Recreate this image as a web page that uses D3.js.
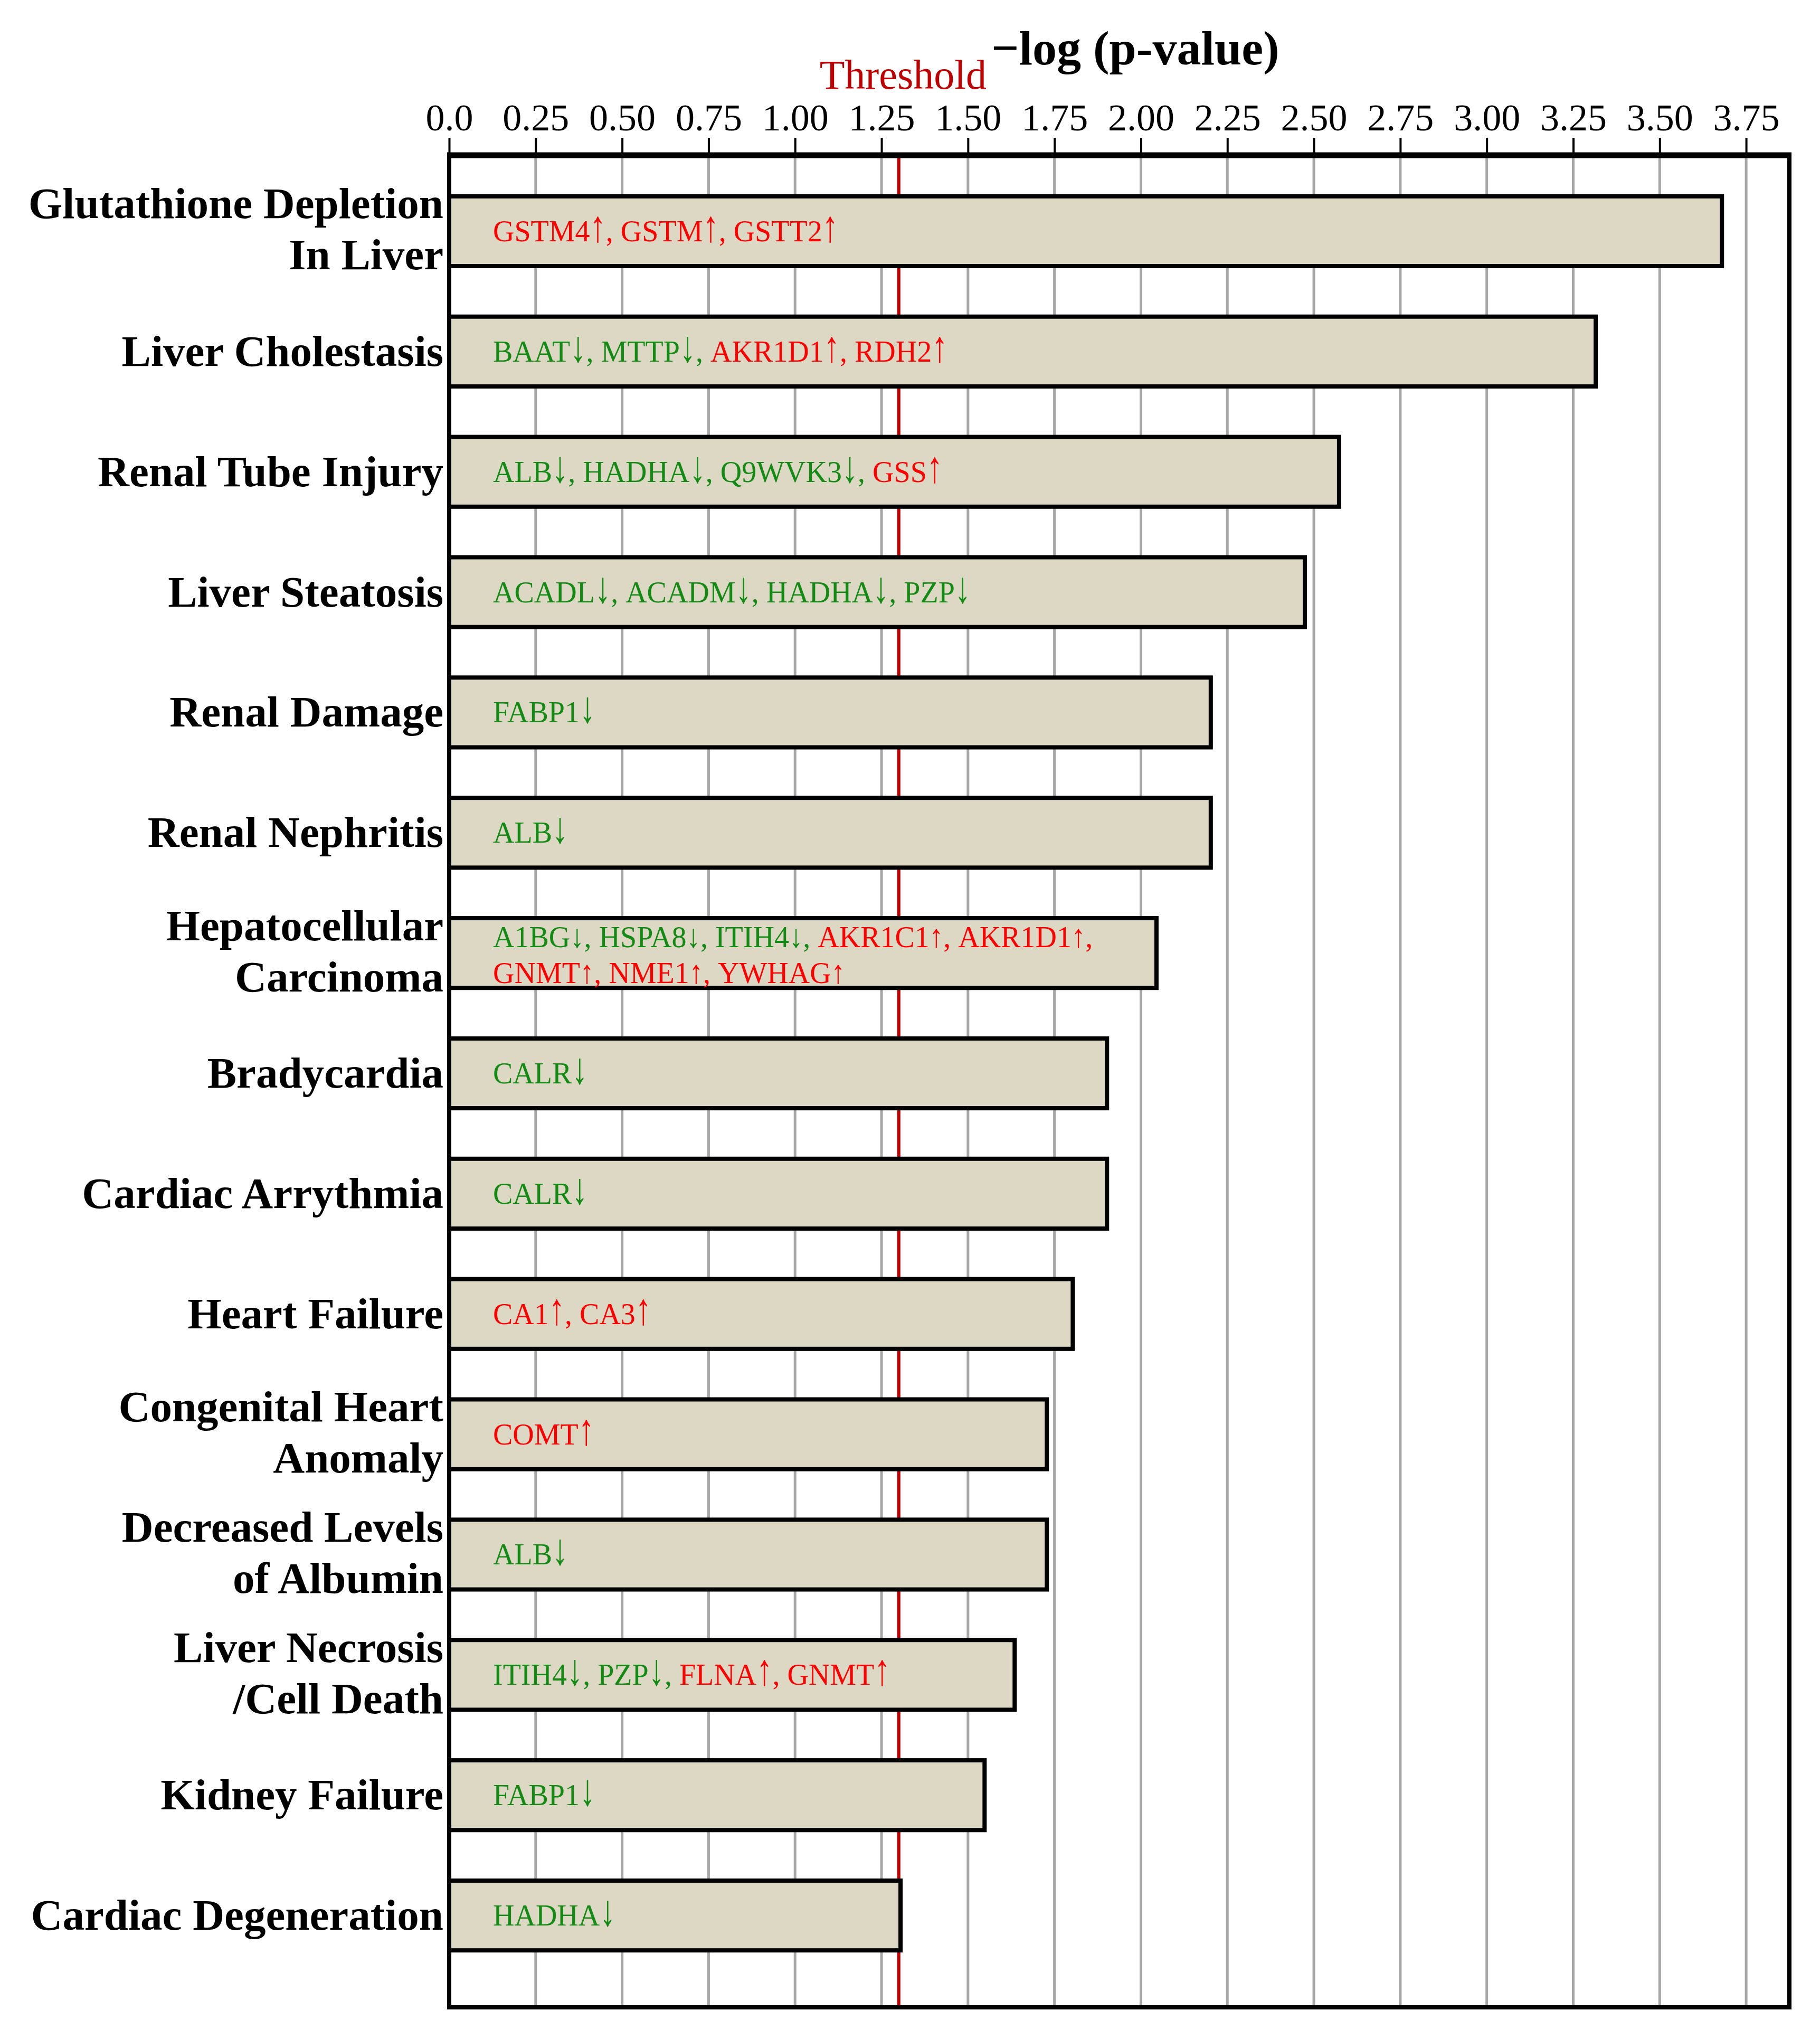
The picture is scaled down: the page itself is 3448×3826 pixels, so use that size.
<!DOCTYPE html>
<html>
<head>
<meta charset="utf-8">
<script src="https://cdn.jsdelivr.net/npm/d3@7"></script>
<style>
  body { margin: 0; background: #fff; }
  svg { display: block; }
</style>
</head>
<body>
<div id="chart"></div>
<script>
// disease / function categories, top to bottom ("\n" = line break in label)
const diseases = [
  "Glutathione Depletion\nIn Liver",
  "Liver Cholestasis",
  "Renal Tube Injury",
  "Liver Steatosis",
  "Renal Damage",
  "Renal Nephritis",
  "Hepatocellular\nCarcinoma",
  "Bradycardia",
  "Cardiac Arrythmia",
  "Heart Failure",
  "Congenital Heart\nAnomaly",
  "Decreased Levels\nof Albumin",
  "Liver Necrosis\n/Cell Death",
  "Kidney Failure",
  "Cardiac Degeneration"
];

// -log(p-value)
const logP = [3.68, 3.315, 2.573, 2.474, 2.202, 2.202, 2.045, 1.902, 1.902, 1.803, 1.728, 1.728, 1.635, 1.548, 1.305];

// genes written inside each bar, one array per text line
const genes = [
  [["GSTM4↑", "GSTM↑", "GSTT2↑"]],
  [["BAAT↓", "MTTP↓", "AKR1D1↑", "RDH2↑"]],
  [["ALB↓", "HADHA↓", "Q9WVK3↓", "GSS↑"]],
  [["ACADL↓", "ACADM↓", "HADHA↓", "PZP↓"]],
  [["FABP1↓"]],
  [["ALB↓"]],
  [["A1BG↓", "HSPA8↓", "ITIH4↓", "AKR1C1↑", "AKR1D1↑"], ["GNMT↑", "NME1↑", "YWHAG↑"]],
  [["CALR↓"]],
  [["CALR↓"]],
  [["CA1↑", "CA3↑"]],
  [["COMT↑"]],
  [["ALB↓"]],
  [["ITIH4↓", "PZP↓", "FLNA↑", "GNMT↑"]],
  [["FABP1↓"]],
  [["HADHA↓"]]
];

const tickLabels = ["0.0", "0.25", "0.50", "0.75", "1.00", "1.25", "1.50", "1.75", "2.00",
                    "2.25", "2.50", "2.75", "3.00", "3.25", "3.50", "3.75"];
const threshold = 1.3;

const W = 3448, H = 3826;
const plotLeft = 851, plotRight = 3390, plotTop = 294, plotBottom = 3802;
const serif = "'Liberation Serif', 'Times New Roman', serif";

const svg = d3.select("#chart").append("svg")
  .attr("width", W).attr("height", H);

const x = d3.scaleLinear().domain([0, 3.875]).range([plotLeft, plotRight]);
const y = d3.scaleBand().domain(diseases).range([324, 3742])
  .paddingInner(0.42).paddingOuter(0.21);

const tickValues = tickLabels.map(d => +d);

// vertical gridlines
svg.append("g").selectAll("line")
  .data(tickValues.filter(d => d > 0))
  .join("line")
    .attr("x1", d => x(d)).attr("x2", d => x(d))
    .attr("y1", plotTop).attr("y2", plotBottom)
    .attr("stroke", "#a6a6a6")
    .attr("stroke-width", 5);

// threshold line
svg.append("line")
  .attr("x1", x(threshold)).attr("x2", x(threshold))
  .attr("y1", plotTop).attr("y2", plotBottom)
  .attr("stroke", "#c00000")
  .attr("stroke-width", 6);

// bars
svg.append("g").selectAll("rect")
  .data(diseases)
  .join("rect")
    .attr("x", x(0))
    .attr("y", d => y(d))
    .attr("width", (d, i) => x(logP[i]) - x(0))
    .attr("height", y.bandwidth())
    .attr("fill", "#ddd8c3")
    .attr("stroke", "#000")
    .attr("stroke-width", 8);

// gene labels inside bars; the arrow is a tall narrow glyph as in the original,
// so each piece is its own text and we move a cursor along the line
const geneColor = g => g.includes("↑") ? "#ff0000" : "#138a13";
const geneLayer = svg.append("g").attr("font-family", serif);

function piece(px, py, str, col, size, sx) {
  const t = geneLayer.append("text")
    .attr("transform", "translate(" + px + "," + py + ")" + (sx ? " scale(" + sx + ",1)" : ""))
    .attr("font-size", size)
    .attr("fill", col)
    .attr("xml:space", "preserve")
    .text(str);
  return t.node().getComputedTextLength() * (sx || 1);
}

diseases.forEach((d, i) => {
  const lines = genes[i];
  const cy = y(d) + y.bandwidth() / 2;
  const single = lines.length === 1;
  lines.forEach((line, li) => {
    const by = single ? cy + 19 : cy + (li - (lines.length - 1) / 2) * 68 + 23;
    let cx = x(0) + 83;
    line.forEach((g, gi) => {
      const last = li === lines.length - 1 && gi === line.length - 1;
      const col = geneColor(g);
      cx += piece(cx, by, g.slice(0, -1), col, 56);
      cx += single ? piece(cx, by, g.slice(-1), col, 84, 0.72)
                   : piece(cx, by, g.slice(-1), col, 62, 0.85);
      if (!last) cx += piece(cx, by, ", ", col, 56);
    });
  });
});

// category labels on the left
diseases.forEach(d => {
  const parts = d.split("\n");
  const cy = y(d) + y.bandwidth() / 2;
  const t = svg.append("text")
    .attr("text-anchor", "end")
    .attr("font-family", serif)
    .attr("font-weight", "bold")
    .attr("font-size", 83)
    .attr("fill", "#000");
  parts.forEach((p, pi) => {
    t.append("tspan")
      .attr("x", 840)
      .attr("y", parts.length === 1 ? cy + 27 : cy + (pi - (parts.length - 1) / 2) * 97 + 24)
      .text(p);
  });
});

// frame
svg.append("rect")
  .attr("x", plotLeft).attr("y", plotTop)
  .attr("width", plotRight - plotLeft).attr("height", plotBottom - plotTop)
  .attr("fill", "none")
  .attr("stroke", "#000")
  .attr("stroke-width", 8);

// top axis
const axis = svg.append("g")
  .attr("transform", "translate(0," + (plotTop - 5) + ")")
  .call(d3.axisTop(x)
    .tickValues(tickValues)
    .tickFormat((d, i) => tickLabels[i])
    .tickSize(28)
    .tickPadding(14));
axis.select(".domain").remove();
axis.selectAll(".tick line").attr("stroke", "#000").attr("stroke-width", 4);
axis.selectAll(".tick text")
  .attr("font-family", serif)
  .attr("font-size", 72)
  .attr("fill", "#000");

svg.append("line")
  .attr("x1", plotLeft - 4).attr("x2", plotRight + 4)
  .attr("y1", plotTop).attr("y2", plotTop)
  .attr("stroke", "#000")
  .attr("stroke-width", 11);

// titles
svg.append("text")
  .attr("x", x(threshold) + 8)
  .attr("y", 168)
  .attr("text-anchor", "middle")
  .attr("font-family", serif)
  .attr("font-size", 78)
  .attr("fill", "#c00000")
  .text("Threshold");

svg.append("text")
  .attr("x", 1878)
  .attr("y", 122)
  .attr("font-family", serif)
  .attr("font-weight", "bold")
  .attr("font-size", 92)
  .attr("fill", "#000")
  .text("\u2212log (p-value)");
</script>
</body>
</html>
